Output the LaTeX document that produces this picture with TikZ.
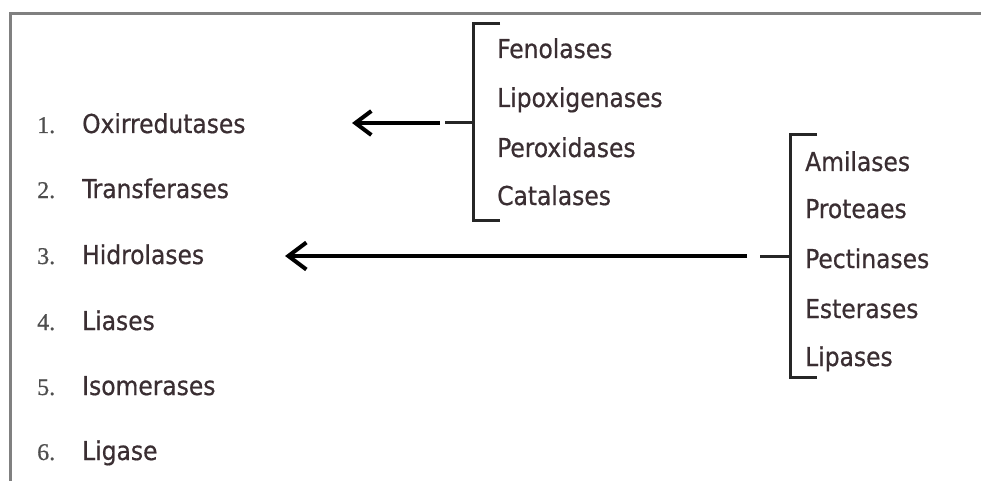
\documentclass[tikz,border=0pt]{standalone}
\usepackage{fontspec}
\setmainfont[FakeBold=0.6]{DejaVu Sans Condensed}
\newfontfamily\numfont[FakeBold=0.6]{Liberation Serif}
\usetikzlibrary{arrows.meta}
\definecolor{wordc}{HTML}{3A2E32}
\definecolor{numc}{HTML}{4E4E4E}
\definecolor{framec}{HTML}{808080}
\begin{document}
\begin{tikzpicture}[x=1pt,y=-1pt,
  word/.style={anchor=base west, inner sep=0pt, text=wordc, font=\fontsize{26}{30}\selectfont},
  num/.style={anchor=base west, inner sep=0pt, text=numc, font=\numfont\fontsize{24}{28}\selectfont},
  brk/.style={line width=3pt, draw=black!85},
  arr/.style={line width=4pt, draw=black, -{Straight Barb[length=16pt,width=24pt,line width=4pt]}},
  arrb/.style={line width=4pt, draw=black, -{Straight Barb[length=18pt,width=27pt,line width=4pt]}}]
\useasboundingbox (0,0) rectangle (981,481);
\fill[white] (0,0) rectangle (981,481);
\draw[framec, line width=3pt] (10,481) -- (10,14) -- (981,14);
% left list
\foreach \n/\t/\y [count=\i] in {1./Oxirredutases/133, 2./Transferases/198, 3./Hidrolases/264, 4./Liases/330, 5./Isomerases/395, 6./Ligase/460}{
  \node[num] (n\i) at (37,\y) {\n};
  \node[word] (c\i) at (82,\y) {\t};
}
% first group
\foreach \t/\y [count=\i] in {Fenolases/58, Lipoxigenases/107, Peroxidases/157, Catalases/205}{
  \node[word] (g\i) at (497,\y) {\t};
}
% second group
\foreach \t/\y [count=\i] in {Amilases/171, Proteaes/218, Pectinases/268, Esterases/318, Lipases/366}{
  \node[word] (h\i) at (805,\y) {\t};
}
% bracket 1
\coordinate (b1t) at (500,24);
\coordinate (b1b) at (500,220);
\coordinate (b1m) at (473,123);
\coordinate (d1) at (445,123);
\coordinate (a1s) at (440,123);
\coordinate (a1e) at (352,123);
\draw[brk] (b1t) -- (473,24) -- (473,220) -- (b1b);
\draw[brk] (d1) -- (b1m);
\draw[arr] (a1s) -- (a1e);
% bracket 2
\coordinate (b2t) at (817,135);
\coordinate (b2b) at (817,377);
\coordinate (b2m) at (790,256);
\coordinate (d2) at (760,256);
\coordinate (a2s) at (747,256);
\coordinate (a2e) at (285,256);
\draw[brk] (b2t) -- (790,135) -- (790,377) -- (b2b);
\draw[brk] (d2) -- (b2m);
\draw[arrb] (a2s) -- (a2e);
\end{tikzpicture}
\end{document}
